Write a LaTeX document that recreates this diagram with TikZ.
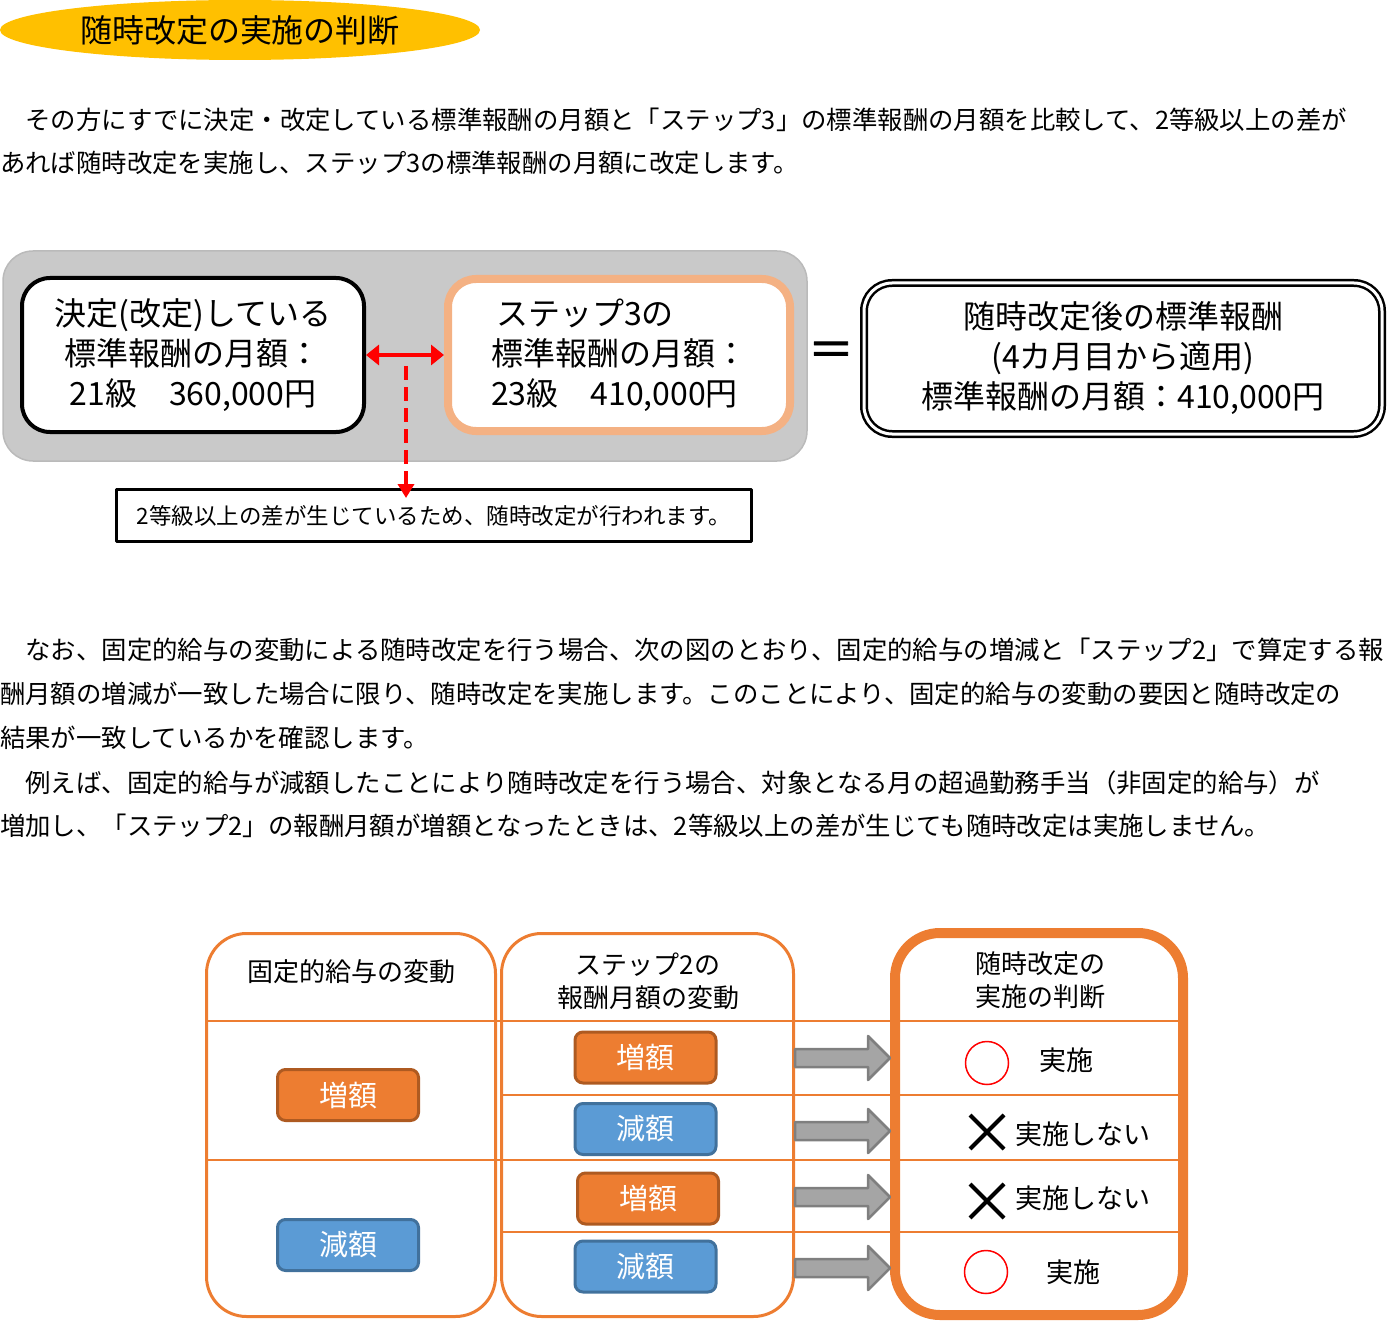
\documentclass[tikz,border=0pt]{standalone}
\usepackage{fontspec}
\setmainfont{Noto Sans CJK JP}
\usetikzlibrary{positioning,arrows.meta,shapes.geometric,shapes.misc}
\definecolor{titleyellow}{RGB}{255,192,0}
\definecolor{boxorange}{RGB}{237,125,49}
\definecolor{darkorange}{RGB}{174,90,33}
\definecolor{boxblue}{RGB}{91,155,213}
\definecolor{darkblue}{RGB}{65,113,156}
\definecolor{peach}{RGB}{244,177,131}
\definecolor{panelgray}{RGB}{201,201,201}
\definecolor{paneledge}{RGB}{186,186,186}
\definecolor{arrowgray}{RGB}{165,165,165}
\definecolor{arrowedge}{RGB}{127,127,127}
\newcommand{\setfs}[1]{\fontsize{#1pt}{#1pt}\selectfont}
\newcommand{\setfsb}[2]{\fontsize{#1pt}{#2pt}\selectfont}
\begin{document}
\begin{tikzpicture}[x=1pt, y=-1pt, line join=round, >=Triangle,
	para/.style={anchor=west, inner sep=0pt, font=\setfs{25.4}},
	cardbox/.style={draw, rounded corners=28pt, fill=white, align=center, inner sep=0pt, font=\setfsb{32}{40}},
	amtbox/.style={rounded corners=8pt, line width=3pt, minimum width=141pt, minimum height=51pt, text=white, font=\setfs{29}},
	upbox/.style={amtbox, fill=boxorange, draw=darkorange},
	downbox/.style={amtbox, fill=boxblue, draw=darkblue},
	colbox/.style={draw=boxorange, line width=3pt, rounded corners=40pt, minimum width=289pt, minimum height=383pt, inner sep=0pt},
	rowline/.style={draw=boxorange, line width=1.5pt},
	head/.style={font=\setfsb{26}{33}, align=center, inner sep=0pt},
	verdict/.style={font=\setfs{27}, inner sep=0pt},
	okmark/.style={circle, draw=red, line width=1.5pt, minimum size=43pt, inner sep=0pt},
	ngmark/.style={cross out, draw, line width=4pt, minimum size=30pt, inner sep=0pt}]
	\useasboundingbox (0,0) rectangle (1390,1324);
	% title and first paragraph
	\node[ellipse, fill=titleyellow, minimum width=480pt, minimum height=60pt, inner sep=0pt, font=\setfs{32}] (title) at (240,30) {随時改定の実施の判断};
	\node[para] (intro1) at (0,120) {　その方にすでに決定・改定している標準報酬の月額と「ステップ3」の標準報酬の月額を比較して、2等級以上の差が};
	\node[para] (intro2) at (0,163) {あれば随時改定を実施し、ステップ3の標準報酬の月額に改定します。};
	% comparison
	\node[draw=paneledge, fill=panelgray, line width=1.5pt, rounded corners=30pt, minimum width=804pt, minimum height=210pt] (panel) at (405,356) {};
	\node[cardbox, line width=4pt, minimum width=342pt, minimum height=154pt] (cur) at (193,355) {決定(改定)している\\標準報酬の月額：\\21級　360,000円};
	\node[cardbox, draw=peach, line width=8pt, minimum width=342pt, minimum height=152pt, align=left] (step3) at (619,355) {\hspace{5pt}ステップ3の\\標準報酬の月額：\\23級　410,000円};
	\node[draw, line width=3pt, minimum width=635pt, minimum height=52pt, inner sep=0pt, font=\setfs{22.5}] (note) at (434,515.5) {2等級以上の差が生じているため、随時改定が行われます。};
	\coordinate (gap) at (406,366);
	\draw[<->, red, line width=4pt, >={Triangle[length=13pt,width=20pt]}] (cur) -- (step3);
	\draw[->, red, line width=3.5pt, dash pattern=on 14pt off 7pt, >={Triangle[length=14pt,width=16pt]}, shorten >=-10pt] (gap) -- (gap |- note.north);
	\node[font=\setfs{46}\addfontfeature{FakeBold=2}, inner sep=0pt] (eq) at (831,354) {＝};
	\node[cardbox, double, line width=2.5pt, double distance=3pt, minimum width=518pt, minimum height=151pt] (after) at (1123,358.5) {随時改定後の標準報酬\\(4カ月目から適用)\\標準報酬の月額：410,000円};
	% second paragraph
	\node[para] (memo1) at (0,650) {　なお、固定的給与の変動による随時改定を行う場合、次の図のとおり、固定的給与の増減と「ステップ2」で算定する報};
	\node[para] (memo2) at (0,694) {酬月額の増減が一致した場合に限り、随時改定を実施します。このことにより、固定的給与の変動の要因と随時改定の};
	\node[para] (memo3) at (0,738) {結果が一致しているかを確認します。};
	\node[para] (memo4) at (0,783) {　例えば、固定的給与が減額したことにより随時改定を行う場合、対象となる月の超過勤務手当（非固定的給与）が};
	\node[para] (memo5) at (0,826) {増加し、「ステップ2」の報酬月額が増額となったときは、2等級以上の差が生じても随時改定は実施しません。};
	% table
	\foreach \y in {1021,1160}
	\draw[rowline] (206,\y) -- (1183,\y);
	\foreach \y in {1095,1232}
	\draw[rowline] (500,\y) -- (1183,\y);
	\node[colbox] (fixcol) at (351,1125) {};
	\node[colbox, minimum width=292pt] (stepcol) at (647.5,1125) {};
	\node[colbox, line width=10pt, rounded corners=45pt, minimum width=288pt, minimum height=382pt] (judgecol) at (1039,1124) {};
	\node[head] (fixhead) at (351,972) {固定的給与の変動};
	\node[head] (stephead) at (648,981) {ステップ2の\\報酬月額の変動};
	\node[head] (judgehead) at (1040,980) {随時改定の\\実施の判断};
	\node[upbox] (fixup) at (348,1095) {増額};
	\node[downbox] (fixdown) at (348,1245) {減額};
	\node[upbox] (stepup1) at (645.5,1057.5) {増額};
	\node[downbox] (stepdown1) at (645.5,1129) {減額};
	\node[upbox] (stepup2) at (648,1198.5) {増額};
	\node[downbox] (stepdown2) at (645.5,1266.5) {減額};
	\foreach \y in {1058,1131,1197,1268}
	\draw[fill=arrowgray, draw=arrowedge, line width=2.5pt] (795,\y-9) -- (868,\y-9) -- (868,\y-22) -- (890,\y) -- (868,\y+22) -- (868,\y+9) -- (795,\y+9) -- cycle;
	\node[okmark] (ok1) at (987,1063) {};
	\node[verdict] (okt1) at (1066,1060) {実施};
	\node[ngmark] (ng1) at (987,1132) {};
	\node[verdict, anchor=west] (ngt1) at (1015,1134) {実施しない};
	\node[ngmark] (ng2) at (987,1201) {};
	\node[verdict, anchor=west] (ngt2) at (1015,1198) {実施しない};
	\node[okmark] (ok2) at (986,1272) {};
	\node[verdict] (okt2) at (1073,1272) {実施};
\end{tikzpicture}
\end{document}
